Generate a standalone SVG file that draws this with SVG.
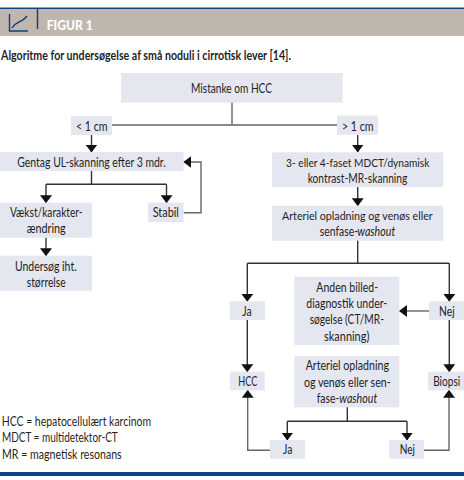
<svg xmlns="http://www.w3.org/2000/svg" width="464" height="480" viewBox="0 0 464 480">
<style>
text{font-family:Lato,"Open Sans","Noto Sans",sans-serif;font-size:13px;fill:#1f1f24}
.c{text-anchor:middle}
.s{font-size:12.3px}
.i{font-style:italic}
.b{fill:#e4e6f0}
.k{fill:none;stroke:#333;stroke-width:1.4}
.g{stroke:#666}
.a{marker-end:url(#h)}
.n{fill:none;stroke:#0d3f80;stroke-width:1.4}
</style>
<defs><marker id="h" markerUnits="userSpaceOnUse" markerWidth="8" markerHeight="12" refX="7.5" refY="6" viewBox="0 0 8 12" orient="auto"><path d="M0 0L8 6L0 12Z" fill="#111"/></marker></defs>
<rect width="464" height="480" fill="#fff"/>
<g id="header">
<rect x="0" y="9" width="464" height="27" fill="#bfb6ae"/>
<rect x="0" y="7.5" width="464" height="1.5" fill="#12457f"/>
<path class="n" d="M9.5 14V31H28M12 28C17 20 21 24 27 16M37.5 8V29"/>
<text x="46.7" y="30" textLength="46" lengthAdjust="spacingAndGlyphs" style="font-weight:900;font-size:13px;fill:#fff">FIGUR 1</text>
</g>
<text x="1" y="60" textLength="290" lengthAdjust="spacingAndGlyphs" style="font-weight:700;font-size:13px">Algoritme for undersøgelse af små noduli i cirrotisk lever [14].</text>
<g id="connectors">
<path class="k g" d="M232 102V125M112 125H337"/>
<path class="k a" d="M91.5 135V152"/>
<path class="k a" d="M357.7 135V152"/>
<path class="k a" d="M357.7 187V205.7"/>
<path class="k" d="M357.7 240V263.3M247.3 263.3H449.3"/>
<path class="k a" d="M247.3 263.3V301.3"/>
<path class="k a" d="M449.3 263.3V301.3"/>
<path class="k" d="M91.5 171V184.3M46 184.3H166.5"/>
<path class="k a" d="M46 184.3V202.7"/>
<path class="k a" d="M166.5 184.3V202.7"/>
<path class="k a" d="M46 237.7V255.7"/>
<path class="k g a" d="M183.5 212.7H201V162H183.8"/>
<path class="k a" d="M247.3 320V371.7"/>
<path class="k g a" d="M429 311H399.5"/>
<path class="k a" d="M449.3 320V371.7"/>
<path class="k" d="M347.3 407V421.3M287.3 421.3H407"/>
<path class="k a" d="M287.3 421.3V440"/>
<path class="k a" d="M407 421.3V440"/>
<path class="k g a" d="M270 450.3H247.7V390.3"/>
<path class="k g a" d="M424 450.3H449V390.3"/>
</g>
<g id="n-mistanke"><rect class="b" x="121" y="73" width="221.6" height="29.6"/><text class="c" x="231.5" y="93" textLength="81" lengthAdjust="spacingAndGlyphs">Mistanke om HCC</text></g>
<g id="n-lt1"><rect class="b" x="71" y="116" width="41" height="19"/><text class="c" x="91.8" y="130.7" textLength="31.7" lengthAdjust="spacingAndGlyphs">&lt; 1 cm</text></g>
<g id="n-gt1"><rect class="b" x="337" y="115.7" width="41" height="19"/><text class="c" x="357.8" y="130.7" textLength="31.7" lengthAdjust="spacingAndGlyphs">&gt; 1 cm</text></g>
<g id="n-faset"><rect class="b" x="272" y="152.3" width="171.3" height="34.7"/><text class="c s" x="357.7" y="166.7" textLength="143.3" lengthAdjust="spacingAndGlyphs">3- eller 4-faset MDCT/dynamisk</text><text class="c" x="357.5" y="182.7" textLength="99.6" lengthAdjust="spacingAndGlyphs">kontrast-MR-skanning</text></g>
<g id="n-arteriel"><rect class="b" x="272" y="205.7" width="171.3" height="35"/><text class="c s" x="357.4" y="220" textLength="150.7" lengthAdjust="spacingAndGlyphs">Arteriel opladning og venøs eller</text><text transform="translate(319.7 236) scale(.8 1)">senfase-</text><text class="i" transform="translate(357.3 236) scale(.82 1)">washout</text></g>
<g id="n-gentag"><rect class="b" x="0" y="152" width="183.5" height="19"/><text class="c" x="91.5" y="166.7" textLength="148.4" lengthAdjust="spacingAndGlyphs">Gentag UL-skanning efter 3 mdr.</text></g>
<g id="n-vaekst"><rect class="b" x="0" y="202.7" width="92" height="35"/><text class="c" x="46.3" y="217.3" textLength="72.7" lengthAdjust="spacingAndGlyphs">Vækst/karakter-</text><text class="c" x="46.2" y="233.3" textLength="39" lengthAdjust="spacingAndGlyphs">ændring</text></g>
<g id="n-undersoeg"><rect class="b" x="0" y="255.7" width="92" height="35"/><text class="c" x="45.8" y="270.7" textLength="61.7" lengthAdjust="spacingAndGlyphs">Undersøg iht.</text><text class="c" x="46.2" y="286.7" textLength="39" lengthAdjust="spacingAndGlyphs">størrelse</text></g>
<g id="n-stabil"><rect class="b" x="148" y="202.7" width="35.5" height="19.3"/><text class="c" x="165.8" y="217" textLength="26.3" lengthAdjust="spacingAndGlyphs">Stabil</text></g>
<g id="n-ja1"><rect class="b" x="229.7" y="301.3" width="35.3" height="18.7"/><text class="c" x="247" y="315.7" textLength="9.4" lengthAdjust="spacingAndGlyphs">Ja</text></g>
<g id="n-anden"><rect class="b" x="294.3" y="276.7" width="105" height="68.3"/><text class="c" x="347.2" y="291.7" textLength="61.7" lengthAdjust="spacingAndGlyphs">Anden billed-</text><text class="c" x="346.8" y="308" textLength="81" lengthAdjust="spacingAndGlyphs">diagnostik under-</text><text class="c" x="346.8" y="324" textLength="74.3" lengthAdjust="spacingAndGlyphs">søgelse (CT/MR-</text><text class="c" x="346.7" y="340.7" textLength="45.3" lengthAdjust="spacingAndGlyphs">skanning)</text></g>
<g id="n-nej1"><rect class="b" x="429" y="301.3" width="35" height="18.7"/><text class="c" x="446.8" y="315.7" textLength="15.7" lengthAdjust="spacingAndGlyphs">Nej</text></g>
<g id="n-hcc"><rect class="b" x="230" y="371.7" width="34.7" height="18.6"/><text class="c" x="247.8" y="385.7" textLength="19" lengthAdjust="spacingAndGlyphs">HCC</text></g>
<g id="n-biopsi"><rect class="b" x="428" y="371.7" width="36" height="18.6"/><text class="c" transform="translate(446.7 385.7) scale(.78 1)">Biopsi</text></g>
<g id="n-arteriel2"><rect class="b" x="294.3" y="356" width="105" height="51.3"/><text class="c" x="347.3" y="370" textLength="83.3" lengthAdjust="spacingAndGlyphs">Arteriel opladning</text><text class="c" x="347.3" y="386.7" textLength="86.7" lengthAdjust="spacingAndGlyphs">og venøs eller sen-</text><text transform="translate(316.7 402.7) scale(.8 1)">fase-</text><text class="i" transform="translate(339.3 402.7) scale(.82 1)">washout</text></g>
<g id="n-ja2"><rect class="b" x="270" y="440" width="35" height="18.7"/><text class="c" x="287.7" y="454" textLength="9.3" lengthAdjust="spacingAndGlyphs">Ja</text></g>
<g id="n-nej2"><rect class="b" x="389.3" y="440" width="34.7" height="18.7"/><text class="c" x="407.3" y="454" textLength="15.3" lengthAdjust="spacingAndGlyphs">Nej</text></g>
<g id="legend"><text x="1.7" y="426" textLength="149.3" lengthAdjust="spacingAndGlyphs">HCC = hepatocellulært karcinom</text><text x="2" y="442.3" textLength="115.7" lengthAdjust="spacingAndGlyphs">MDCT = multidetektor-CT</text><text x="2" y="459" textLength="119.7" lengthAdjust="spacingAndGlyphs">MR = magnetisk resonans</text></g>
<rect x="0" y="472" width="464" height="4" fill="#0d4285"/>
</svg>
